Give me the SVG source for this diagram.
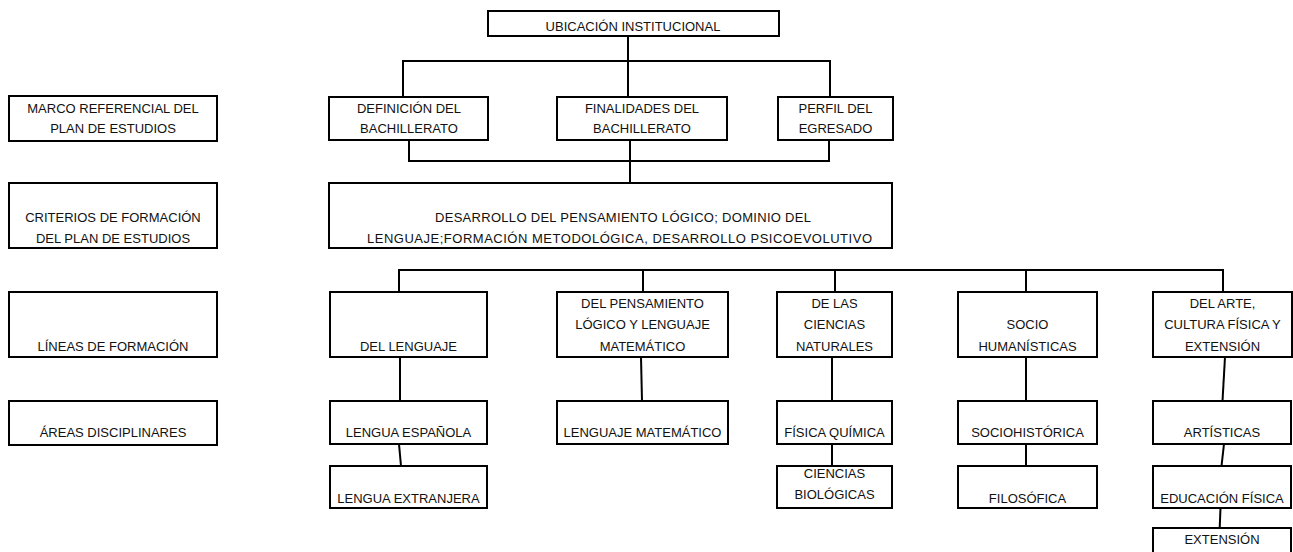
<svg xmlns="http://www.w3.org/2000/svg" width="1293" height="552" viewBox="0 0 1293 552">
<style>
.box{fill:#fff;stroke:#000;stroke-width:2}
.ln{fill:none;stroke:#000;stroke-width:2}
text{font-family:"Liberation Sans",Arial,sans-serif;font-size:13px;fill:#111;text-anchor:middle}
.st{text-anchor:start}
</style>
<rect width="1293" height="552" fill="#fff"/>
<g id="connectors">
<path class="ln" d="M628,36V97"/>
<path class="ln" d="M403,97V61H830V97"/>
<path class="ln" d="M409,140V161H829V140"/>
<path class="ln" d="M630,140V183"/>
<path class="ln" d="M399,292V270H1223V292"/>
<path class="ln" d="M643,270V292"/>
<path class="ln" d="M835,270V292"/>
<path class="ln" d="M1026,270V292"/>
<path class="ln" d="M400,357V401"/>
<path class="ln" d="M641,357L642,401"/>
<path class="ln" d="M832,357V401"/>
<path class="ln" d="M1026,357V401"/>
<path class="ln" d="M1225,357L1222.5,401"/>
<path class="ln" d="M399,444L401,466"/>
<path class="ln" d="M832,444V466"/>
<path class="ln" d="M1026,444V466"/>
<path class="ln" d="M1224,444L1221.5,466"/>
<path class="ln" d="M1220.5,508L1219.7,528"/>
</g>
<g id="ubicacion"><rect class="box" x="488" y="11" width="291" height="25"/><text x="633" y="31">UBICACIÓN INSTITUCIONAL</text></g>
<g id="marco"><rect class="box" x="9" y="96" width="208" height="45"/><text x="113" y="113">MARCO REFERENCIAL DEL</text><text x="113" y="133">PLAN DE ESTUDIOS</text></g>
<g id="definicion"><rect class="box" x="329" y="97" width="159" height="43"/><text x="409" y="113">DEFINICIÓN DEL</text><text x="409" y="133">BACHILLERATO</text></g>
<g id="finalidades"><rect class="box" x="557" y="97" width="170" height="43"/><text x="642" y="113">FINALIDADES DEL</text><text x="642" y="133">BACHILLERATO</text></g>
<g id="perfil"><rect class="box" x="778" y="97" width="115" height="43"/><text x="835.5" y="113">PERFIL DEL</text><text x="835.5" y="133">EGRESADO</text></g>
<g id="criterios"><rect class="box" x="9" y="183" width="208" height="65"/><text x="113" y="222">CRITERIOS DE FORMACIÓN</text><text x="113" y="243">DEL PLAN DE ESTUDIOS</text></g>
<g id="desarrollo"><rect class="box" x="329" y="183" width="563" height="65"/><text class="st" x="435" y="222" textLength="376" lengthAdjust="spacing">DESARROLLO DEL PENSAMIENTO LÓGICO; DOMINIO DEL</text><text class="st" x="367" y="243" textLength="505" lengthAdjust="spacing">LENGUAJE;FORMACIÓN METODOLÓGICA, DESARROLLO PSICOEVOLUTIVO</text></g>
<g id="lineas"><rect class="box" x="9" y="292" width="208" height="65"/><text x="113" y="350.5">LÍNEAS DE FORMACIÓN</text></g>
<g id="lenguaje"><rect class="box" x="330" y="292" width="157" height="65"/><text x="408.5" y="350.5">DEL LENGUAJE</text></g>
<g id="pensamiento"><rect class="box" x="557" y="292" width="171" height="65"/><text x="642.5" y="308">DEL PENSAMIENTO</text><text x="642.5" y="329">LÓGICO Y LENGUAJE</text><text x="642.5" y="350.5">MATEMÁTICO</text></g>
<g id="ciencias"><rect class="box" x="777" y="292" width="115" height="65"/><text x="834.5" y="308">DE LAS</text><text x="834.5" y="329">CIENCIAS</text><text x="834.5" y="350.5">NATURALES</text></g>
<g id="socio"><rect class="box" x="958" y="292" width="139" height="65"/><text x="1027.5" y="329">SOCIO</text><text x="1027.5" y="350.5">HUMANÍSTICAS</text></g>
<g id="arte"><rect class="box" x="1153" y="292" width="139" height="65"/><text x="1222.5" y="308">DEL ARTE,</text><text x="1222.5" y="329">CULTURA FÍSICA Y</text><text x="1222.5" y="350.5">EXTENSIÓN</text></g>
<g id="areas"><rect class="box" x="9" y="401" width="208" height="44"/><text x="113" y="436.5">ÁREAS DISCIPLINARES</text></g>
<g id="espanola"><rect class="box" x="330" y="401" width="157" height="43"/><text x="408.5" y="436.5">LENGUA ESPAÑOLA</text></g>
<g id="matematico"><rect class="box" x="557" y="401" width="171" height="43"/><text x="642.5" y="436.5">LENGUAJE MATEMÁTICO</text></g>
<g id="fisica"><rect class="box" x="777" y="401" width="115" height="43"/><text x="834.5" y="436.5">FÍSICA QUÍMICA</text></g>
<g id="sociohistorica"><rect class="box" x="958" y="401" width="139" height="43"/><text x="1027.5" y="436.5">SOCIOHISTÓRICA</text></g>
<g id="artisticas"><rect class="box" x="1153" y="401" width="138" height="43"/><text x="1222" y="436.5">ARTÍSTICAS</text></g>
<g id="extranjera"><rect class="box" x="330" y="466" width="157" height="42"/><text x="408.5" y="502.5">LENGUA EXTRANJERA</text></g>
<g id="biologicas"><rect class="box" x="777" y="466" width="115" height="42"/><text x="834.5" y="478">CIENCIAS</text><text x="834.5" y="498.5">BIOLÓGICAS</text></g>
<g id="filosofica"><rect class="box" x="958" y="466" width="139" height="42"/><text x="1027.5" y="502.5">FILOSÓFICA</text></g>
<g id="educacion"><rect class="box" x="1153" y="466" width="138" height="42"/><text x="1222" y="502.5">EDUCACIÓN FÍSICA</text></g>
<g id="extension"><rect class="box" x="1153" y="528" width="138" height="30"/><text x="1222" y="544">EXTENSIÓN</text></g>
</svg>
